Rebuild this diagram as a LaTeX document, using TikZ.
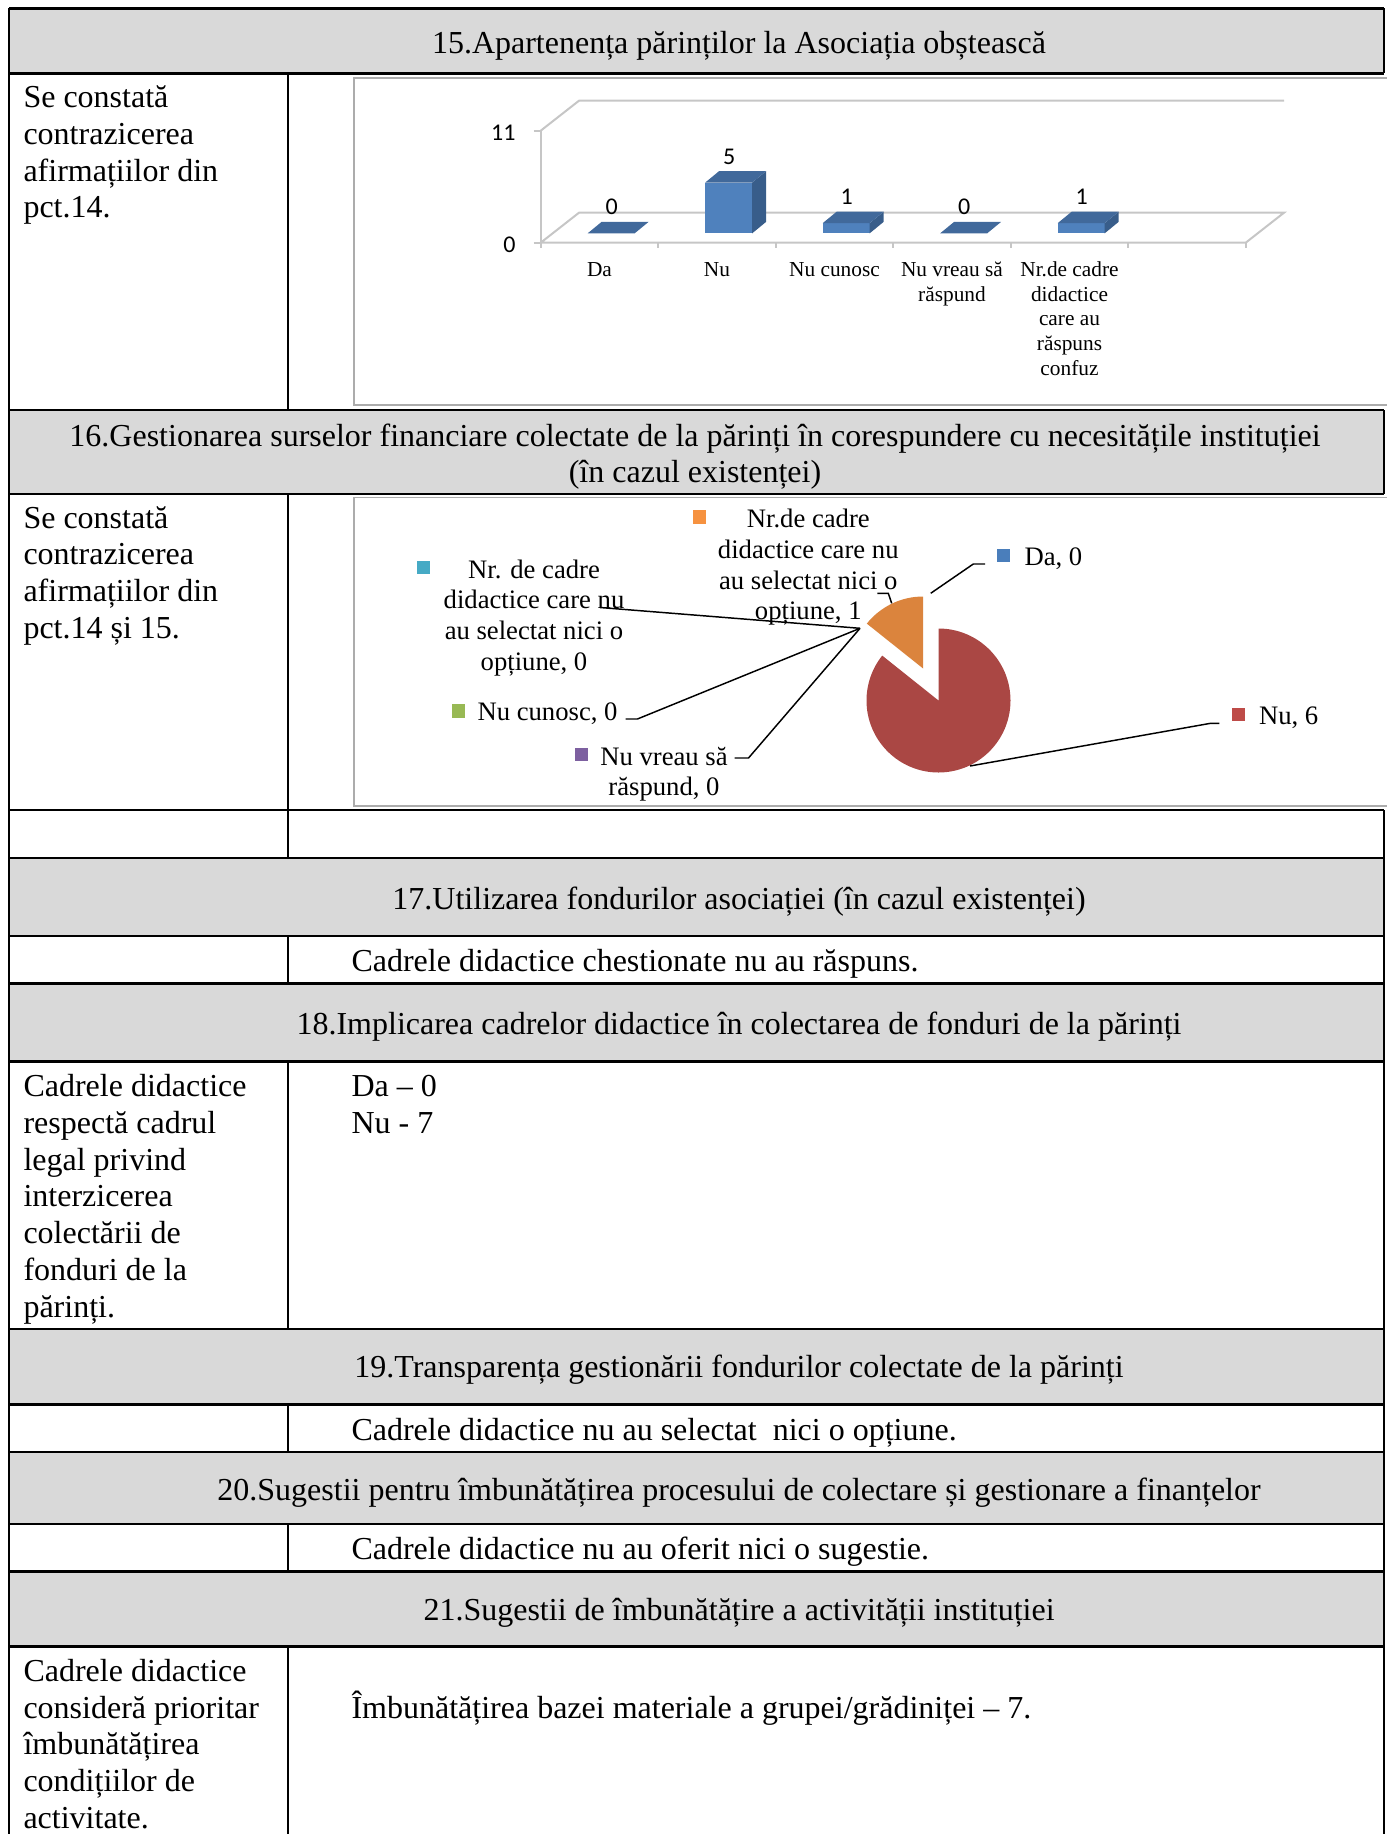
\documentclass[tikz,border=0pt]{standalone}
\usepackage{fontspec}
\setmainfont{Liberation Serif}
\newfontfamily\chartfont{Carlito}
\definecolor{headGray}{HTML}{D9D9D9}
\definecolor{barFront}{HTML}{4F81BD}
\definecolor{barSide}{HTML}{385D8A}
\definecolor{barTop}{HTML}{41699B}
\definecolor{keyBlue}{HTML}{4A7EBB}
\definecolor{keyRed}{HTML}{BE4B48}
\definecolor{keyGreen}{HTML}{98B954}
\definecolor{keyPurple}{HTML}{7D60A0}
\definecolor{keyTeal}{HTML}{46AAC5}
\definecolor{keyOrange}{HTML}{F69240}
\definecolor{pieRed}{HTML}{AA4744}
\definecolor{pieOrange}{HTML}{DB843D}

\begin{document}
\begin{tikzpicture}[x=0.375pt, y=-0.375pt,
    every node/.style={inner sep=0pt},
    rule/.style={line width=0.85pt},
    frame/.style={draw=gray!65, line width=0.5pt},
    grid/.style={draw=gray!45, line width=0.75pt},
    lead/.style={draw=black, line width=0.55pt},
    cell/.style={font=\fontsize{12}{13.8}\selectfont, align=left, anchor=base west},
    head/.style={font=\fontsize{12}{13.8}\selectfont, align=center, anchor=base},
    cat/.style={font=\fontsize{8}{9.25}\selectfont, align=center, anchor=base},
    val/.style={font=\chartfont\fontsize{9}{10}\selectfont},
    slice/.style={font=\fontsize{10}{11.55}\selectfont, align=center, anchor=base},
    key/.style={minimum size=4.9pt}]
    \useasboundingbox (0,0) rectangle (1386,1834);

    % header rows
    \fill[headGray] (9,8.5) rectangle (1384,73.5);
    \fill[headGray] (9,410) rectangle (1384,494);
    \fill[headGray] (9,858) rectangle (1384,936);
    \fill[headGray] (9,983.5) rectangle (1384,1061.5);
    \fill[headGray] (9,1329) rectangle (1384,1404.5);
    \fill[headGray] (9,1452) rectangle (1384,1524);
    \fill[headGray] (9,1571.5) rectangle (1384,1646.5);

    % table rules
    \draw[rule] (9,8.5) -- (1384,8.5);
    \draw[rule] (9,73.5) -- (1384,73.5);
    \draw[rule] (9,410) -- (1384,410);
    \draw[rule] (9,494) -- (1384,494);
    \draw[rule] (9,810) -- (1384,810);
    \draw[rule] (9,858) -- (1384,858);
    \draw[rule] (9,936) -- (1384,936);
    \draw[rule] (9,983.5) -- (1384,983.5);
    \draw[rule] (9,1061.5) -- (1384,1061.5);
    \draw[rule] (9,1329) -- (1384,1329);
    \draw[rule] (9,1404.5) -- (1384,1404.5);
    \draw[rule] (9,1452) -- (1384,1452);
    \draw[rule] (9,1524) -- (1384,1524);
    \draw[rule] (9,1571.5) -- (1384,1571.5);
    \draw[rule] (9,1646.5) -- (1384,1646.5);
    \draw[rule] (9,8.5) -- (9,1834);
    \draw[rule] (288,73.5) -- (288,410);
    \draw[rule] (288,494) -- (288,858);
    \draw[rule] (288,936) -- (288,983.5);
    \draw[rule] (288,1061.5) -- (288,1329);
    \draw[rule] (288,1404.5) -- (288,1452);
    \draw[rule] (288,1524) -- (288,1571.5);
    \draw[rule] (288,1646.5) -- (288,1834);
    \draw[rule] (1384,8.5) -- (1384,73.5);
    \draw[rule] (1384,410) -- (1384,494);
    \draw[rule] (1384,810) -- (1384,1834);

    % headings
    \node[head] (h15) at (739,53.1) {15.Apartenența părinților la Asociația obștească};
    \node[head] (h16) at (695,482.8) {16.Gestionarea surselor financiare colectate de la părinți în corespundere cu necesitățile instituției\\(în cazul existenței)};
    \node[head] (h17) at (739,909.5) {17.Utilizarea fondurilor asociației (în cazul existenței)};
    \node[head] (h18) at (739,1034.5) {18.Implicarea cadrelor didactice în colectarea de fonduri de la părinți};
    \node[head] (h19) at (739,1377) {19.Transparența gestionării fondurilor colectate de la părinți};
    \node[head] (h20) at (739,1500) {20.Sugestii pentru îmbunătățirea procesului de colectare și gestionare a finanțelor};
    \node[head] (h21) at (739,1620.5) {21.Sugestii de îmbunătățire a activității instituției};

    % cell texts
    \node[cell] (c15) at (23,217.9) {Se constată\\contrazicerea\\afirmațiilor din\\pct.14.};
    \node[cell] (c16) at (23,638.4) {Se constată\\contrazicerea\\afirmațiilor din\\pct.14 și 15.};
    \node[cell] (r17) at (351,971.5) {Cadrele didactice chestionate nu au răspuns.};
    \node[cell] (c18) at (23,1317.3) {Cadrele didactice\\respectă cadrul\\legal privind\\interzicerea\\colectării de\\fonduri de la\\părinți.};
    \node[cell] (r18) at (351,1133.3) {Da – 0\\Nu - 7};
    \node[cell] (r19) at (351,1440.5) {Cadrele didactice nu au selectat\ \ nici o opțiune.};
    \node[cell] (r20) at (351,1559.5) {Cadrele didactice nu au oferit nici o sugestie.};
    \node[cell] (c21) at (23,1828.4) {Cadrele didactice\\consideră prioritar\\îmbunătățirea\\condițiilor de\\activitate.};
    \node[cell] (r21) at (351,1718.5) {Îmbunătățirea bazei materiale a grupei/grădiniței – 7.};

    % chart frames
    \draw[frame] (1390,78) -- (354,78) -- (354,405) -- (1390,405);
    \draw[frame] (1390,497.5) -- (354,497.5) -- (354,806) -- (1390,806);

    % bar chart walls
    \draw[grid] (540.7,130.7) -- (579,100.7) -- (1284,100.7);
    \draw[grid] (540.7,242.7) -- (579,212.7) -- (1284,212.7) -- (1245.7,242.7) -- cycle;
    \draw[grid] (540.7,130.7) -- (540.7,242.7);
    \draw[grid] (533.5,130.7) -- (540.7,130.7);
    \draw[grid] (533.5,242.7) -- (540.7,242.7);
    \draw[grid] (540.7,242.7) -- (540.7,247.5);
    \draw[grid] (658.2,242.7) -- (658.2,247.5);
    \draw[grid] (775.7,242.7) -- (775.7,247.5);
    \draw[grid] (893.2,242.7) -- (893.2,247.5);
    \draw[grid] (1010.7,242.7) -- (1010.7,247.5);
    \draw[grid] (1128.2,242.7) -- (1128.2,247.5);
    \draw[grid] (1245.7,242.7) -- (1245.7,247.5);
    \node[val, anchor=east] (y11) at (516,133) {11};
    \node[val, anchor=east] (y0) at (516,245) {0};

    % bars
    \fill[barTop] (587.7,233.3) -- (634.7,233.3) -- (648.7,221.8) -- (601.7,221.8) -- cycle;
    \fill[barFront] (705.2,233.3) rectangle (752.2,182.55);
    \fill[barSide] (752.2,233.3) -- (752.2,182.55) -- (766.2,171.05) -- (766.2,221.8) -- cycle;
    \fill[barTop] (705.2,182.55) -- (752.2,182.55) -- (766.2,171.05) -- (719.2,171.05) -- cycle;
    \fill[barFront] (822.7,233.3) rectangle (869.7,223.15);
    \fill[barSide] (869.7,233.3) -- (869.7,223.15) -- (883.7,211.65) -- (883.7,221.8) -- cycle;
    \fill[barTop] (822.7,223.15) -- (869.7,223.15) -- (883.7,211.65) -- (836.7,211.65) -- cycle;
    \fill[barTop] (940.2,233.3) -- (987.2,233.3) -- (1001.2,221.8) -- (954.2,221.8) -- cycle;
    \fill[barFront] (1057.7,233.3) rectangle (1104.7,223.15);
    \fill[barSide] (1104.7,233.3) -- (1104.7,223.15) -- (1118.7,211.65) -- (1118.7,221.8) -- cycle;
    \fill[barTop] (1057.7,223.15) -- (1104.7,223.15) -- (1118.7,211.65) -- (1071.7,211.65) -- cycle;

    \node[val] (vDa) at (611.7,207) {0};
    \node[val] (vNu) at (729.2,157) {5};
    \node[val] (vNc) at (846.7,197.2) {1};
    \node[val] (vNv) at (964.2,207) {0};
    \node[val] (vNr) at (1081.7,197.2) {1};

    \node[cat] (xDa) at (599.5,276.3) {Da};
    \node[cat] (xNu) at (717,276.3) {Nu};
    \node[cat] (xNc) at (834.5,276.3) {Nu cunosc};
    \node[cat] (xNv) at (952,301) {Nu vreau să\\răspund};
    \node[cat] (xNr) at (1069.5,375) {Nr.de cadre\\didactice\\care au\\răspuns\\confuz};

    % pie
    \fill[pieRed] (938.5,700.5) -- ++(-90:72) arc[start angle=-90, end angle=218.57, radius=72] -- cycle;
    \fill[pieOrange] (923.1,668.5) -- ++(-141.43:72) arc[start angle=-141.43, end angle=-90, radius=72] -- cycle;

    \node[key, fill=keyBlue] (kDa) at (1003.5,555.6) {};
    \node[slice, anchor=base west] (sDa) at (1024,565) {Da, 0};
    \node[key, fill=keyRed] (kNu) at (1238.6,714.6) {};
    \node[slice, anchor=base west] (sNu) at (1258.5,724) {Nu, 6};
    \node[key, fill=keyOrange] (kOr) at (699.4,517) {};
    \node[slice] (sOr) at (808.3,619.9) {Nr.de cadre\\didactice care nu\\au selectat nici o\\opțiune, 1};
    \node[key, fill=keyTeal] (kTe) at (423.4,567.3) {};
    \node[slice] (sTe) at (534,670.4) {Nr. de cadre\\didactice care nu\\au selectat nici o\\opțiune, 0};
    \node[key, fill=keyGreen] (kNc) at (458.5,711) {};
    \node[slice, anchor=base west] (sNc) at (477,720.5) {Nu cunosc, 0};
    \node[key, fill=keyPurple] (kNv) at (581.3,754.4) {};
    \node[slice] (sNv) at (664,795.8) {Nu vreau să\\răspund, 0};

    \coordinate (zero) at (860,628.3);
    \coordinate (tTe) at (600,607.5);
    \coordinate (tNc) at (625.7,719);
    \coordinate (tNv) at (734.5,758);
    \coordinate (tOr) at (877.3,593.3);
    \coordinate (tDa) at (985,564);
    \coordinate (tNu) at (1219.3,723.3);
    \draw[lead] (tTe) -- (zero);
    \draw[lead] (tNc) -- ++(11.7,0) -- (zero);
    \draw[lead] (tNv) -- ++(14,0) -- (zero);
    \draw[lead] (tOr) -- ++(11,0) -- (891.7,603.3);
    \draw[lead] (tDa) -- ++(-11.7,0) -- (930.7,593.3);
    \draw[lead] (tNu) -- ++(-8.7,0) -- (970,766);
  \end{tikzpicture}
\end{document}
